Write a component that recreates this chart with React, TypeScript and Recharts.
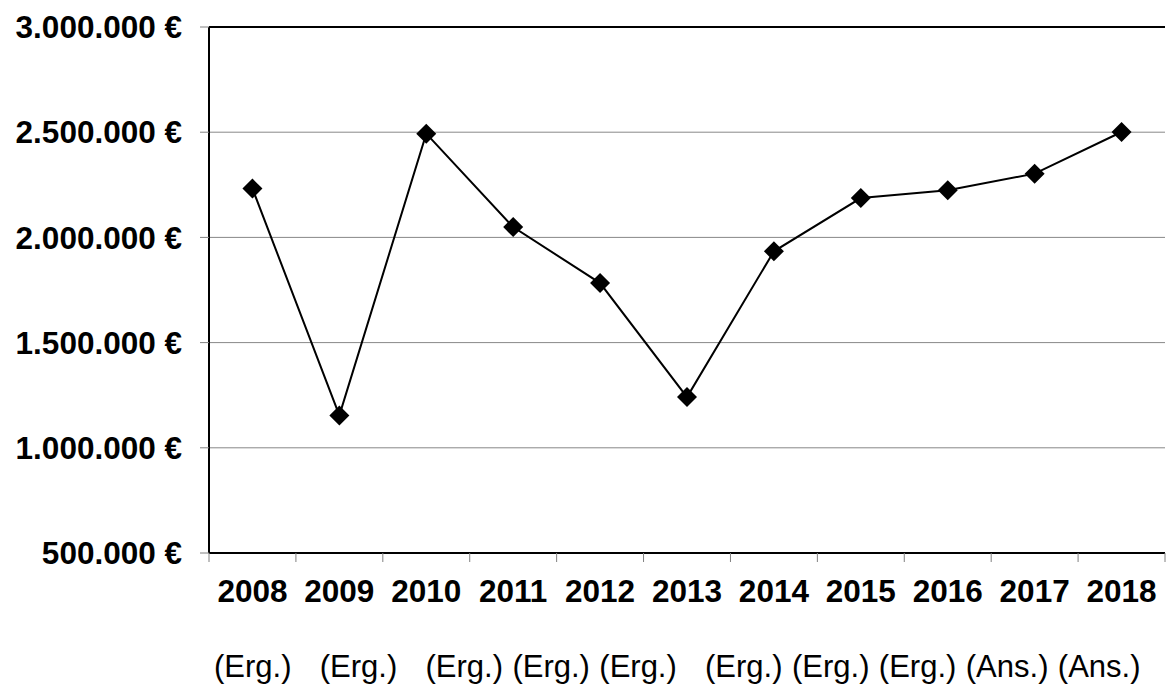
import React from "react";
import { LineChart, Line, XAxis, YAxis, CartesianGrid, ReferenceLine } from "recharts";

const years = ["2008", "2009", "2010", "2011", "2012", "2013", "2014", "2015", "2016", "2017", "2018"];
const amounts = [2232000, 1154000, 2493000, 2049000, 1783000, 1241000, 1934000, 2187000, 2224000, 2303000, 2501000];
const yTicks = [500000, 1000000, 1500000, 2000000, 2500000, 3000000];
const subLine = "(Erg.)   (Erg.)   (Erg.) (Erg.) (Erg.)   (Erg.) (Erg.) (Erg.) (Ans.) (Ans.)";

const data = years.map((year, i) => ({ year, value: amounts[i] }));

const font = "'Liberation Sans', Arial, sans-serif";

function euro(v: number) {
  return String(v).replace(/\B(?=(\d{3})+(?!\d))/g, ".") + " €";
}

function YearTick(props: any) {
  const { x, y, payload, index, visibleTicksCount } = props;
  const half = payload.offset ?? 0;
  const last = index === visibleTicksCount - 1;
  return (
    <g>
      <line x1={x - half} x2={x - half} y1={y - 9} y2={y} stroke="#808080" />
      {last && <line x1={x + half} x2={x + half} y1={y - 9} y2={y} stroke="#808080" />}
      <text x={x} y={y + 40} textAnchor="middle" fill="#000" fontSize={31.5} fontWeight={700} fontFamily={font}>
        {payload.value}
      </text>
    </g>
  );
}

function SubLine(props: any) {
  const vb = props.viewBox || { x: 209, y: 553 };
  return (
    <text
      x={vb.x + 5}
      y={vb.y + 124}
      xmlSpace="preserve"
      style={{ whiteSpace: "pre", wordSpacing: 0.8 }}
      fill="#000"
      fontSize={31}
      fontFamily={font}
    >
      {subLine}
    </text>
  );
}

function Diamond(props: any) {
  const { cx, cy } = props;
  if (cx == null || cy == null) return null;
  const r = 10;
  return <polygon points={`${cx},${cy - r} ${cx + r},${cy} ${cx},${cy + r} ${cx - r},${cy}`} fill="#000" />;
}

export default function App() {
  return (
    <div style={{ position: "absolute", left: 0, top: 0, width: 1168, height: 686, background: "#fff" }}>
      <LineChart width={1168} height={686} data={data} margin={{ top: 27, right: 3, left: 0, bottom: 0 }}>
        <CartesianGrid vertical={false} stroke="#888" />
        <XAxis
          dataKey="year"
          scale="band"
          height={133}
          interval={0}
          tickSize={9}
          tickMargin={0}
          tickLine={false}
          axisLine={{ stroke: "#000", strokeWidth: 2 }}
          tick={<YearTick />}
          label={<SubLine />}
        />
        <YAxis
          domain={[500000, 3000000]}
          ticks={yTicks}
          interval={0}
          width={209}
          tickSize={9}
          tickMargin={18}
          tickFormatter={euro}
          tickLine={{ stroke: "#808080" }}
          axisLine={{ stroke: "#000", strokeWidth: 2 }}
          tick={{ fill: "#000", fontSize: 31.5, fontWeight: 700, fontFamily: font }}
        />
        <YAxis
          yAxisId="frame"
          orientation="right"
          width={0}
          domain={[500000, 3000000]}
          tick={false}
          tickLine={false}
          axisLine={{ stroke: "#000", strokeWidth: 2 }}
        />
        <ReferenceLine y={3000000} stroke="#000" strokeWidth={2} />
        <Line
          type="linear"
          dataKey="value"
          stroke="#000"
          strokeWidth={2}
          dot={<Diamond />}
          activeDot={false}
          isAnimationActive={false}
        />
      </LineChart>
    </div>
  );
}
